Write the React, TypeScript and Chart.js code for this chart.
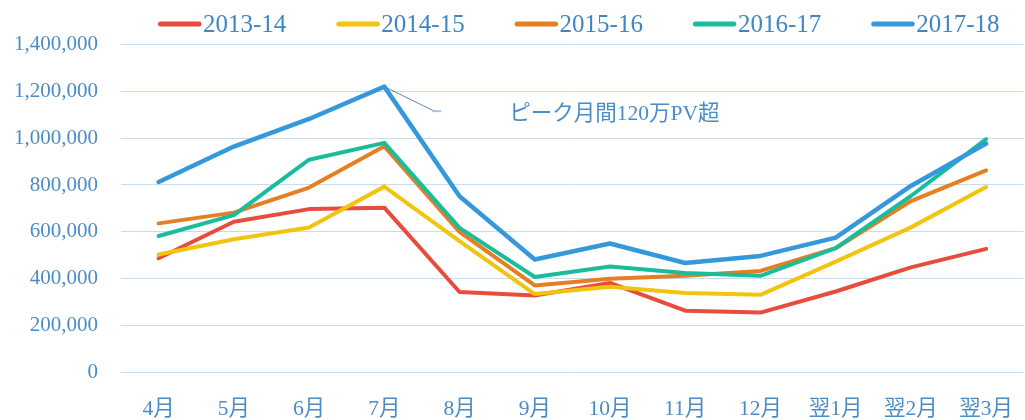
import React, { useEffect, useRef } from "react";
import { Chart, registerables } from "chart.js";

Chart.register(...registerables);

const months = ["4月", "5月", "6月", "7月", "8月", "9月", "10月", "11月", "12月", "翌1月", "翌2月", "翌3月"];
const seriesLabels = ["2013-14", "2014-15", "2015-16", "2016-17", "2017-18"];
const seriesColors = ["#E84C3D", "#F1C40F", "#E67E22", "#1ABC9C", "#3498DB"];

const pv2013 = [487000, 643000, 697000, 703000, 343000, 328000, 382000, 263000, 255000, 345000, 448000, 527000];
const pv2014 = [503000, 568000, 618000, 793000, 560000, 334000, 365000, 339000, 331000, 473000, 619000, 791000];
const pv2015 = [636000, 682000, 789000, 965000, 600000, 371000, 400000, 412000, 433000, 530000, 731000, 862000];
const pv2016 = [582000, 671000, 908000, 980000, 617000, 407000, 452000, 424000, 412000, 530000, 753000, 996000];
const pv2017 = [813000, 964000, 1082000, 1220000, 752000, 482000, 550000, 467000, 497000, 575000, 796000, 977000];

const yMax = 1400000;
const yStep = 200000;
const annotationText = "ピーク月間120万PV超";
const annotationIndex = 3;

const TEXT_BLUE = "#4a8cc8";
const FONT = "'Liberation Serif', 'Noto Sans CJK JP', serif";

const legendPlugin = {
  id: "customLegend",
  afterDraw(chart: any) {
    const ctx = chart.ctx;
    ctx.save();
    const startX = 158;
    const step = 178.3;
    const y = 24;
    chart.data.datasets.forEach((ds: any, i: number) => {
      const x = startX + i * step;
      ctx.strokeStyle = ds.borderColor;
      ctx.lineWidth = 5;
      ctx.lineCap = "round";
      ctx.beginPath();
      ctx.moveTo(x + 2.5, y);
      ctx.lineTo(x + 41, y);
      ctx.stroke();
      ctx.fillStyle = "#3f86c4";
      ctx.font = `25px ${FONT}`;
      ctx.textAlign = "left";
      ctx.textBaseline = "middle";
      ctx.fillText(ds.label, x + 45, y + 1);
    });
    ctx.restore();
  },
};

const annotationPlugin = {
  id: "peakAnnotation",
  afterDraw(chart: any) {
    const ctx = chart.ctx;
    const xs = chart.scales.x;
    const ys = chart.scales.y;
    const px = xs.getPixelForValue(annotationIndex);
    const py = ys.getPixelForValue(pv2017[annotationIndex]);
    ctx.save();
    ctx.strokeStyle = "#5b87b8";
    ctx.lineWidth = 1;
    ctx.beginPath();
    ctx.moveTo(px, py);
    ctx.lineTo(px + 49, py + 24);
    ctx.stroke();
    ctx.strokeStyle = "#a9c4e0";
    ctx.lineWidth = 2;
    ctx.beginPath();
    ctx.moveTo(px + 48, py + 24.5);
    ctx.lineTo(px + 57, py + 24.5);
    ctx.stroke();
    ctx.fillStyle = TEXT_BLUE;
    ctx.font = `21.5px ${FONT}`;
    ctx.textAlign = "left";
    ctx.textBaseline = "middle";
    ctx.fillText(annotationText, px + 125, py + 28);
    ctx.restore();
  },
};

export default function App() {
  const ref = useRef<HTMLCanvasElement | null>(null);

  useEffect(() => {
    if (!ref.current) return;
    const all = [pv2013, pv2014, pv2015, pv2016, pv2017];
    const chart = new Chart(ref.current, {
      type: "line",
      data: {
        labels: months,
        datasets: all.map((d, i) => ({
          label: seriesLabels[i],
          data: d,
          borderColor: seriesColors[i],
          backgroundColor: seriesColors[i],
          borderWidth: i === 4 ? 4.5 : 4,
          pointRadius: 0,
          pointHoverRadius: 0,
          tension: 0,
          borderJoinStyle: "round" as const,
          borderCapStyle: "round" as const,
          order: 4 - i,
        })),
      },
      options: {
        responsive: false,
        animation: false,
        layout: { padding: { top: 44.5, left: 0, right: 0, bottom: 0 } },
        plugins: {
          legend: { display: false },
          tooltip: { enabled: false },
          title: { display: false },
        },
        scales: {
          x: {
            offset: true,
            grid: { display: false, drawTicks: false },
            border: { display: false },
            ticks: {
              color: TEXT_BLUE,
              font: { family: FONT, size: 21.5 },
              padding: 24,
              maxRotation: 0,
              autoSkip: false,
            },
            afterFit(scale: any) {
              scale.height = 47.7;
            },
          },
          y: {
            min: 0,
            max: yMax,
            grid: { color: "#c6dcef", lineWidth: 1, drawTicks: false },
            border: { display: false },
            ticks: {
              stepSize: yStep,
              color: TEXT_BLUE,
              font: { family: FONT, size: 21 },
              padding: 23,
              callback: (v: any) => Number(v).toLocaleString("en-US"),
            },
            afterFit(scale: any) {
              scale.width = 121;
            },
          },
        },
      },
      plugins: [legendPlugin, annotationPlugin],
    });
    return () => chart.destroy();
  }, []);

  return (
    <div
      style={{
        position: "fixed",
        left: 0,
        top: 0,
        width: 1025,
        height: 420,
        overflow: "hidden",
        background: "#ffffff",
      }}
    >
      <canvas ref={ref} width={1037} height={420} style={{ display: "block" }} />
    </div>
  );
}
